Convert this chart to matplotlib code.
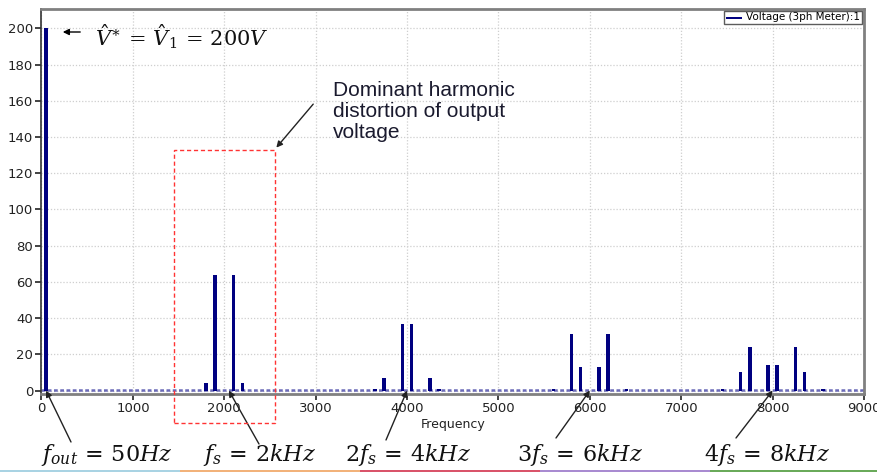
import matplotlib.pyplot as plt
from matplotlib.patches import Rectangle

plt.rcParams['font.family'] = ['DejaVu Sans']
plt.rcParams['mathtext.fontset'] = 'dejavuserif'

# Harmonic spectrum of the output voltage
freqs = [50, 1800, 1900, 2100, 2200,
         3650, 3750, 3950, 4050, 4250, 4350,
         5600, 5800, 5900, 6100, 6200, 6400,
         7450, 7650, 7750, 7950, 8050, 8250, 8350, 8550]
amps = [200, 4, 64, 64, 4,
        0.6, 7, 37, 37, 7, 0.6,
        1, 31.5, 13, 13, 31.5, 1,
        0.6, 10, 24, 14, 14, 24, 10, 0.6]

x_ticks = list(range(0, 9001, 1000))
y_ticks = list(range(0, 201, 20))

# labelled harmonics below the axis
harm_labels = [r'$f_{out}\,=\,50Hz$', r'$f_s\,=\,2kHz$', r'$2f_s\,=\,4kHz$',
               r'$3f_s\,=\,6kHz$', r'$4f_s\,=\,8kHz$']
harm_freqs = [50, 2050, 4000, 6000, 8000]

W, H = 878, 472
fig = plt.figure(figsize=(W / 100, H / 100), dpi=100)
ax = fig.add_axes([41.5 / W, 1 - 394 / H, (864 - 41.5) / W, (394 - 8.5) / H])

ax.bar(freqs, amps, width=38, color='#000080', zorder=3, label='Voltage (3ph Meter):1')
ax.axhline(0.3, color='#6a6ab8', lw=1.8, ls=(0, (1.5, 1)), zorder=2)

ax.set_xlim(0, 9000)
ax.set_ylim(-1.9, 211)
ax.set_xticks(x_ticks)
ax.set_yticks(y_ticks)
ax.tick_params(labelsize=9.5, colors='#222222', length=4, width=1.2, pad=2)
ax.grid(True, color='#cfcfcf', ls=(0, (1, 1.5)), lw=0.9)
ax.set_axisbelow(True)
ax.set_xlabel('Frequency', fontsize=9, color='#222222', labelpad=2)

for s in ['top', 'right', 'bottom']:
    ax.spines[s].set_color('#808080')
    ax.spines[s].set_linewidth(2)
ax.spines['left'].set_color('#333333')
ax.spines['left'].set_linewidth(1.2)

leg = ax.legend(loc='upper right', fontsize=7.5, frameon=True, fancybox=False,
                handlelength=1.6, handletextpad=0.4, borderpad=0.15,
                borderaxespad=0.2, handleheight=0.5)
leg.get_frame().set_edgecolor('#333333')
leg.get_frame().set_linewidth(1)
for h in leg.legend_handles:
    h.set_height(2)

# fundamental
ax.annotate('', xy=(60, H - 32), xycoords='figure pixels',
            xytext=(83, H - 32), textcoords='figure pixels',
            arrowprops=dict(arrowstyle='-|>', color='black', lw=1, mutation_scale=9))
fig.text(95 / W, 1 - 37 / H, r'$\hat{V}^{\ast}\,=\,\hat{V}_1\,=\,200V$',
         fontsize=15, va='center', ha='left', color='#111111')

# dominant harmonic box
ax.add_patch(Rectangle((1450, -18), 1100, 151, fill=False, ec='#ff3333',
                       ls=(0, (3, 2)), lw=1, clip_on=False, zorder=4))
ax.annotate('', xy=(2550, 133), xycoords='data',
            xytext=(315, H - 102), textcoords='figure pixels',
            arrowprops=dict(arrowstyle='-|>', color='#222222', lw=1, mutation_scale=9))
fig.text(333 / W, 1 - 81 / H, 'Dominant harmonic\ndistortion of output\nvoltage',
         fontsize=15, family='Liberation Sans', color='#1a1a2e', va='top', ha='left',
         linespacing=1.12)

# switching harmonics
label_x = [107, 260, 408, 580, 767]
tail_px = [(71, 442), (259, 444), (386, 440), (556, 438), (736, 438)]
for txt, lx, f, (tx, ty) in zip(harm_labels, label_x, harm_freqs, tail_px):
    fig.text(lx / W, 1 - 455 / H, txt, fontsize=16, ha='center', va='center',
             color='#111111')
    ax.annotate('', xy=(f, 0), xycoords='data',
                xytext=(tx, H - ty), textcoords='figure pixels',
                arrowprops=dict(arrowstyle='-|>', color='#222222', lw=1,
                                mutation_scale=9, shrinkA=0, shrinkB=0))

# colour strip along the bottom edge
strip = [(0, 180, '#a9d3e3'), (180, 360, '#f2b27a'), (360, 540, '#d9546a'),
         (540, 710, '#a98bd1'), (710, 878, '#6aaa5a')]
for x0, x1, c in strip:
    fig.patches.append(Rectangle((x0 / W, 0), (x1 - x0) / W, 2 / H,
                                 transform=fig.transFigure, color=c, lw=0))

fig.savefig('out.png', dpi=100)
